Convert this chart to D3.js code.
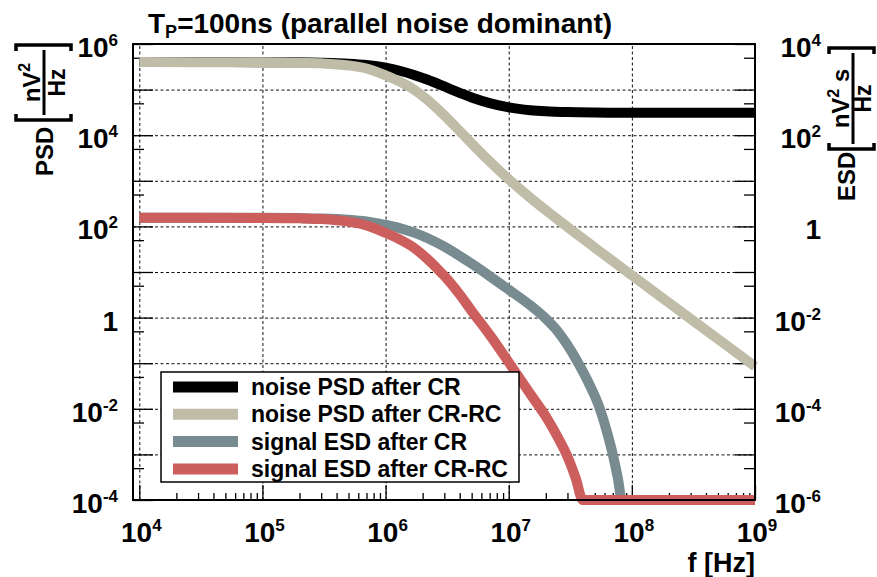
<!DOCTYPE html>
<html>
<head>
<meta charset="utf-8">
<script src="https://cdn.jsdelivr.net/npm/d3@7"></script>
<style>
body { margin: 0; background: #fff; }
text { font-family: "Liberation Sans", Arial, Helvetica, sans-serif; font-weight: bold; fill: #000; }
</style>
</head>
<body>
<svg width="877" height="577"></svg>
<script>
// noise curves (PSD, nV^2/Hz)
let noiseFreq  = [1e4, 3e4, 1e5, 2e5, 3e5, 5e5, 7e5, 1e6, 1.3e6, 1.7e6, 2.2e6, 3e6, 4e6, 5e6, 7e6, 1e7, 1.5e7, 2e7, 3e7, 5e7, 1e8, 2e8, 5e8, 1e9]
let noiseCR    = [4.01e5, 4.01e5, 4.0e5, 3.96e5, 3.89e5, 3.7e5, 3.45e5, 3.02e5, 2.59e5, 2.1e5, 1.64e5, 1.17e5, 8.5e4, 6.7e4, 5.05e4, 4.08e4, 3.54e4, 3.35e4, 3.21e4, 3.14e4, 3.11e4, 3.1e4, 3.1e4, 3.1e4]
let noiseCRRC  = [4.01e5, 4.0e5, 3.99e5, 3.9e5, 3.77e5, 3.39e5, 2.9e5, 2.05e5, 1.5e5, 1.0e5, 5.9e4, 2.72e4, 1.23e4, 6.6e3, 2.66e3, 1.08e3, 423, 227, 96.8, 34.2, 8.46, 2.11, 0.338, 0.0844]

// signal curves (ESD)
let sigCRFreq  = [1e4, 1e5, 2e5, 3e5, 5e5, 7e5, 1e6, 1.3e6, 1.7e6, 2.2e6, 3e6, 4e6, 5e6, 7e6, 1e7, 1.5e7, 2e7, 2.5e7, 3e7, 3.6e7, 4.5e7, 5.5e7, 6.3e7, 7e7, 7.7e7, 8.3e7, 1e8, 1e9]
let sigCR      = [155, 154, 152, 149, 140, 128, 108, 92, 73, 55, 36, 22.5, 15.2, 8.15, 4.1, 1.85, 0.95, 0.5, 0.25, 0.11, 0.035, 0.01, 3e-3, 1e-3, 3e-4, 1e-4, 1e-4, 1e-4]
let sigCRRCFreq = [1e4, 1e5, 2e5, 3e5, 5e5, 7e5, 1e6, 1.3e6, 1.7e6, 2.2e6, 2.66e6, 3e6, 4e6, 5e6, 7e6, 1e7, 1.5e7, 2e7, 2.5e7, 3e7, 3.5e7, 4e7, 1e8, 1e9]
let sigCRRC    = [155, 153, 150, 145, 127, 105, 72, 52, 34, 19, 11.5, 8.2, 3.2, 1.4, 0.42, 0.105, 0.021, 0.0068, 0.0024, 9e-4, 3e-4, 1e-4, 1e-4, 1e-4]

let seriesNames  = ['noise PSD after CR', 'noise PSD after CR-RC', 'signal ESD after CR', 'signal ESD after CR-RC']
let seriesColors = ['#000000', '#bfbda8', '#778b91', '#cd5e5e']

// tick labels
let xLabelVals = [1e4, 1e5, 1e6, 1e7, 1e8, 1e9]
let xLabels    = [['10', '4'], ['10', '5'], ['10', '6'], ['10', '7'], ['10', '8'], ['10', '9']]
let yLeftVals  = [1e6, 1e4, 1e2, 1, 1e-2, 1e-4]
let yLeftLabels  = [['10', '6'], ['10', '4'], ['10', '2'], ['1', ''], ['10', '-2'], ['10', '-4']]
let yRightVals = [1e4, 1e2, 1, 1e-2, 1e-4, 1e-6]
let yRightLabels = [['10', '4'], ['10', '2'], ['1', ''], ['10', '-2'], ['10', '-4'], ['10', '-6']]

let frameL = 133, frameR = 755, frameT = 44, frameB = 500

let svg = d3.select('svg')

let xScale = d3.scaleLog().domain([1e4, 1e9]).range([139.3, frameR])
let yScale = d3.scaleLog().domain([1e-4, 1e6]).range([frameB, frameT])
let yRight = d3.scaleLog().domain([1e-6, 1e4]).range([frameB, frameT])

let yDecades = d3.range(-4, 7).map(e => Math.pow(10, e))
let yMinor = d3.range(-4, 6).map(e => 5 * Math.pow(10, e))
let xMinor = xScale.ticks().filter(v => Math.abs(Math.log10(v) - Math.round(Math.log10(v))) > 1e-6)

let clean = g => { g.select('.domain').remove(); g.selectAll('text').remove() }

// grid
svg.append('g')
    .attr('transform', 'translate(0,' + frameB + ')')
    .call(d3.axisBottom(xScale).tickValues(xLabelVals).tickSize(-(frameB - frameT)).tickFormat(''))
    .call(clean)
    .selectAll('line').attr('stroke', '#111').attr('stroke-dasharray', '3,2.5')

svg.append('g')
    .attr('transform', 'translate(' + frameL + ',0)')
    .call(d3.axisLeft(yScale).tickValues(yDecades).tickSize(-(frameR - frameL)).tickFormat(''))
    .call(clean)
    .selectAll('line').attr('stroke', '#111').attr('stroke-dasharray', '3,2.5')

// ticks
let tickAxis = (axis, tr) => {
    svg.append('g').attr('transform', tr).call(axis).call(clean)
        .selectAll('line').attr('stroke', '#000').attr('stroke-width', 1.3)
}
tickAxis(d3.axisRight(yScale).tickValues(yDecades).tickSize(20).tickFormat(''), 'translate(' + frameL + ',0)')
tickAxis(d3.axisRight(yScale).tickValues(yMinor).tickSize(11).tickFormat(''), 'translate(' + frameL + ',0)')
tickAxis(d3.axisLeft(yRight).tickValues(yDecades.map(v => v / 100)).tickSize(20).tickFormat(''), 'translate(' + frameR + ',0)')
tickAxis(d3.axisLeft(yRight).tickValues(yMinor.map(v => v / 100)).tickSize(11).tickFormat(''), 'translate(' + frameR + ',0)')
tickAxis(d3.axisTop(xScale).tickValues(xLabelVals).tickSize(15).tickFormat(''), 'translate(0,' + frameB + ')')
tickAxis(d3.axisTop(xScale).tickValues(xMinor).tickSize(7).tickFormat(''), 'translate(0,' + frameB + ')')

// curves
let series = [
    [noiseFreq, noiseCR],
    [noiseFreq, noiseCRRC],
    [sigCRFreq, sigCR],
    [sigCRRCFreq, sigCRRC]
]
let line = d3.line()
    .x(d => xScale(d[0]))
    .y(d => yScale(d[1]))
    .curve(d3.curveMonotoneX)

series.forEach((s, i) => {
    svg.append('path')
        .datum(s[0].map((f, j) => [f, s[1][j]]))
        .attr('d', line)
        .attr('fill', 'none')
        .attr('stroke', seriesColors[i])
        .attr('stroke-width', 10)
        .attr('stroke-linejoin', 'round')
})

// frame
svg.append('rect')
    .attr('x', frameL).attr('y', frameT)
    .attr('width', frameR - frameL).attr('height', frameB - frameT)
    .attr('fill', 'none').attr('stroke', '#000').attr('stroke-width', 2)

// tick labels
let powLabel = (sel, lab) => {
    sel.append('tspan').text(lab[0])
    if (lab[1]) sel.append('tspan').attr('font-size', 17).attr('dy', -11).text(lab[1])
}
xLabelVals.forEach((v, i) => {
    let t = svg.append('text').attr('x', xScale(v) + 2).attr('y', 542)
        .attr('font-size', 28).attr('text-anchor', 'middle')
    powLabel(t, xLabels[i])
})
yLeftVals.forEach((v, i) => {
    let t = svg.append('text').attr('x', 118).attr('y', yScale(v) + 13)
        .attr('font-size', 28).attr('text-anchor', 'end')
    powLabel(t, yLeftLabels[i])
})
yRightVals.forEach((v, i) => {
    let t = svg.append('text').attr('x', 821).attr('y', yRight(v) + 13)
        .attr('font-size', 28).attr('text-anchor', 'end')
    powLabel(t, yRightLabels[i])
})

// title
let title = svg.append('text').attr('x', 148).attr('y', 33).attr('font-size', 28)
title.append('tspan').text('T')
title.append('tspan').attr('font-size', 18).attr('dy', 5).text('P')
title.append('tspan').attr('dy', -5).text('=100ns (parallel noise dominant)')

// x title
svg.append('text').attr('x', frameR).attr('y', 572).attr('font-size', 27)
    .attr('text-anchor', 'end').text('f [Hz]')

// y titles with fractions
let bracket = (g, x, y0, y1, dir) => {
    g.append('path')
        .attr('d', 'M' + (x + 6 * dir) + ',' + y0 + 'H' + x + 'V' + y1 + 'H' + (x + 6 * dir))
        .attr('fill', 'none').attr('stroke', '#000').attr('stroke-width', 3.5)
}
let fracTitle = (tx, ty, name, num, numRest, x0, x1, barY, numY, denY, brTop, brBot) => {
    let g = svg.append('g').attr('transform', 'translate(' + tx + ',' + ty + ') rotate(-90)')
    g.append('text').attr('x', 0).attr('y', 0).attr('font-size', 24).text(name)
    bracket(g, x0, brTop, brBot, 1)
    bracket(g, x1, brTop, brBot, -1)
    let cx = (x0 + x1) / 2
    let n = g.append('text').attr('x', cx).attr('y', numY).attr('font-size', 24).attr('text-anchor', 'middle')
    n.append('tspan').text(num)
    n.append('tspan').attr('font-size', 16).attr('dy', -10).text('2')
    if (numRest) n.append('tspan').attr('dy', 10).text(numRest)
    g.append('line').attr('x1', x0 + 5).attr('x2', x1 - 5).attr('y1', barY).attr('y2', barY)
        .attr('stroke', '#000').attr('stroke-width', 3)
    g.append('text').attr('x', cx).attr('y', denY).attr('font-size', 23).attr('text-anchor', 'middle').text('Hz')
}
fracTitle(53, 176, 'PSD', 'nV', '', 56, 131, -9, -13, 12, -37, 18)
fracTitle(855, 201, 'ESD', 'nV', ' s', 52, 153, -2, -6, 16, -26, 19)

// legend
let legend = svg.append('g')
legend.append('rect')
    .attr('x', 161).attr('y', 372).attr('width', 358).attr('height', 110)
    .attr('fill', '#fff').attr('stroke', '#000').attr('stroke-width', 1.5)
seriesNames.forEach((name, i) => {
    let y = 387 + i * 27.3
    legend.append('line').attr('x1', 173).attr('x2', 238).attr('y1', y).attr('y2', y)
        .attr('stroke', seriesColors[i]).attr('stroke-width', 11)
    legend.append('text').attr('x', 251).attr('y', y + 8).attr('font-size', 23).text(name)
})
</script>
</body>
</html>
